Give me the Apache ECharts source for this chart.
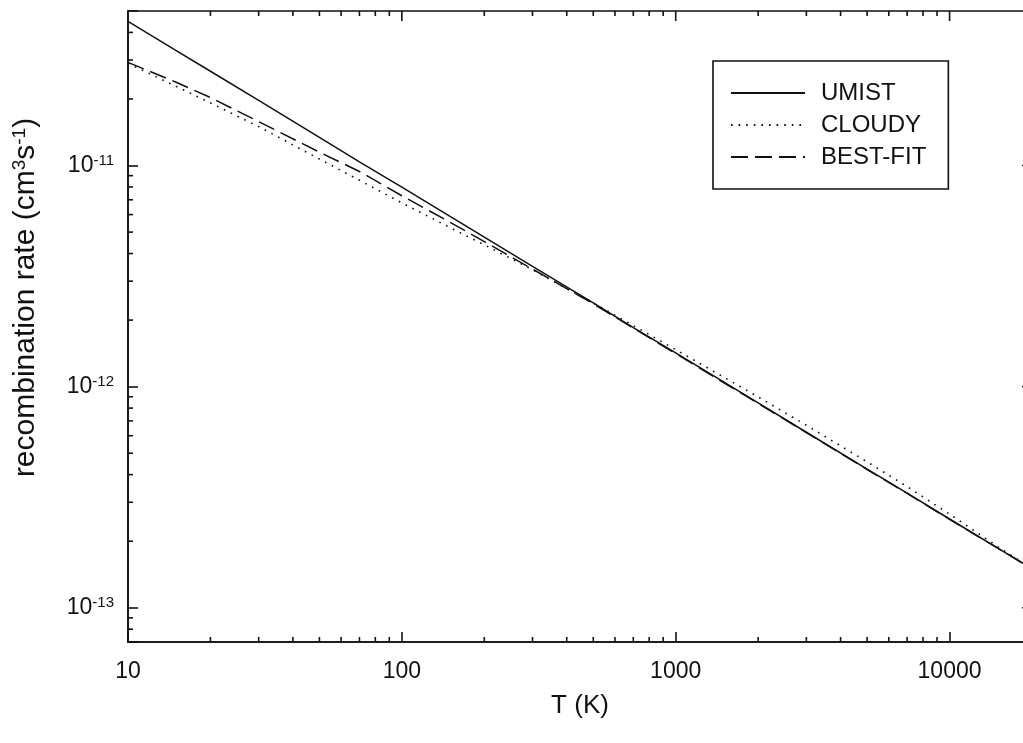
<!DOCTYPE html>
<html>
<head>
<meta charset="utf-8">
<style>
html, body { margin: 0; padding: 0; background: #fff; }
#chart { width: 1023px; height: 743px; }
</style>
<script src="https://cdn.jsdelivr.net/npm/echarts@6/dist/echarts.min.js"></script>
</head>
<body>
<div id="chart"></div>
<script>
var temperatures = [10, 15, 20, 30, 50, 70, 100, 150, 200, 300, 500, 700, 1000, 2000, 3000, 5000, 7000, 10000, 15000, 20000];
// recombination rates (cm^3 s^-1)
var umist = [4.49e-11, 3.31e-11, 2.67e-11, 1.97e-11, 1.34e-11, 1.04e-11, 7.98e-12, 5.89e-12, 4.74e-12, 3.50e-12,
             2.39e-12, 1.85e-12, 1.42e-12, 8.44e-13, 6.22e-13, 4.24e-13, 3.30e-13, 2.52e-13, 1.86e-13, 1.50e-13];
var cloudy = [2.90e-11, 2.28e-11, 1.92e-11, 1.50e-11, 1.07e-11, 8.58e-12, 6.78e-12, 5.24e-12, 4.38e-12, 3.38e-12,
              2.39e-12, 1.89e-12, 1.47e-12, 8.99e-13, 6.69e-13, 4.57e-13, 3.53e-13, 2.65e-13, 1.89e-13, 1.50e-13];
var bestFit = [2.93e-11, 2.38e-11, 2.03e-11, 1.58e-11, 1.15e-11, 9.40e-12, 7.30e-12, 5.54e-12, 4.53e-12, 3.40e-12,
               2.37e-12, 1.84e-12, 1.41e-12, 8.40e-13, 6.20e-13, 4.22e-13, 3.29e-13, 2.51e-13, 1.86e-13, 1.50e-13];

var xTickLabels = [10, 100, 1000, 10000];
var yTickExponents = [-13, -12, -11];
var xRange = [10, 20000];
var yRange = [7e-14, 5e-11];

var FONT = 'Liberation Sans, Arial, sans-serif';
var INK = '#111';

function pairs(ys) {
    return temperatures.map(function (t, i) { return [t, ys[i]]; });
}

var myChart = echarts.init(document.getElementById('chart'));

option = {
    backgroundColor: '#fff',
    animation: false,
    grid: {
        left: 128,
        top: 11,
        right: -9,
        bottom: 101,
        show: true,
        borderColor: INK,
        borderWidth: 1.6,
        outerBoundsMode: 'none'
    },
    legend: {
        orient: 'vertical',
        left: 713,
        top: 61,
        padding: [20, 22, 20, 17],
        itemGap: 8,
        itemWidth: 74,
        itemHeight: 14,
        borderColor: INK,
        borderWidth: 1.6,
        itemStyle: { opacity: 0 },
        textStyle: { fontFamily: FONT, fontSize: 24, color: INK, padding: [0, 0, 0, 11] },
        data: ['UMIST', 'CLOUDY', 'BEST-FIT']
    },
    xAxis: {
        type: 'log',
        min: xRange[0],
        max: xRange[1],
        name: 'T (K)',
        nameLocation: 'middle',
        nameGap: 51,
        nameTextStyle: { fontFamily: FONT, fontSize: 26, color: INK },
        axisLine: { lineStyle: { color: INK, width: 1.6 } },
        axisTick: { inside: true, length: 10, lineStyle: { color: INK, width: 1.6 } },
        axisLabel: {
            margin: 18,
            fontFamily: FONT,
            fontSize: 23,
            color: INK,
            formatter: function (v) {
                var r = Math.round(v);
                return xTickLabels.indexOf(r) >= 0 && Math.abs(v - r) < 1e-6 ? String(r) : '';
            }
        },
        splitLine: { show: false }
    },
    yAxis: {
        type: 'log',
        min: yRange[0],
        max: yRange[1],
        name: '{t|recombination rate (cm}{s|3}{t|s}{s|-1}{t|)}',
        nameLocation: 'middle',
        nameGap: 86,
        nameTextStyle: {
            padding: [0, 0, 0, 58],
            rich: {
                t: { fontFamily: FONT, fontSize: 30, color: INK },
                s: { fontFamily: FONT, fontSize: 19, color: INK, padding: [0, 0, 13, 0] }
            }
        },
        axisLine: { lineStyle: { color: INK, width: 1.6 } },
        axisTick: { inside: true, length: 10, lineStyle: { color: INK, width: 1.6 } },
        axisLabel: {
            margin: 14,
            formatter: function (v) {
                var lg = Math.log(v) / Math.LN10;
                var e = Math.round(lg);
                if (Math.abs(lg - e) > 1e-6 || yTickExponents.indexOf(e) < 0) return '';
                return '{b|10}{s|' + e + '}';
            },
            rich: {
                b: { fontFamily: FONT, fontSize: 23, color: INK },
                s: { fontFamily: FONT, fontSize: 15, color: INK, padding: [0, 0, 10, 0] }
            }
        },
        splitLine: { show: false }
    },
    series: [
        {
            name: 'UMIST',
            type: 'line',
            symbol: 'none',
            lineStyle: { color: INK, width: 1.5, type: 'solid' },
            itemStyle: { color: INK },
            data: pairs(umist)
        },
        {
            name: 'CLOUDY',
            type: 'line',
            symbol: 'none',
            lineStyle: { color: INK, width: 1.6, type: [1.6, 6] },
            itemStyle: { color: INK },
            data: pairs(cloudy)
        },
        {
            name: 'BEST-FIT',
            type: 'line',
            symbol: 'none',
            lineStyle: { color: INK, width: 1.5, type: [17, 7] },
            itemStyle: { color: INK },
            data: pairs(bestFit)
        }
    ]
};
myChart.setOption(option);

// log-axis minor ticks (2..9 per decade) and mirrored ticks on top/right
function tickLine(x1, y1, x2, y2) {
    return { type: 'line', silent: true, shape: { x1: x1, y1: y1, x2: x2, y2: y2 },
             style: { stroke: INK, lineWidth: 1.6 } };
}
var plotLeft = myChart.convertToPixel({ xAxisIndex: 0 }, xRange[0]);
var plotRight = myChart.convertToPixel({ xAxisIndex: 0 }, xRange[1]);
var plotBottom = myChart.convertToPixel({ yAxisIndex: 0 }, yRange[0]);
var plotTop = myChart.convertToPixel({ yAxisIndex: 0 }, yRange[1]);
var marks = [];
var d, k, v, p, len;
for (d = 10; d <= 10000; d *= 10) {
    for (k = 1; k <= 9; k++) {
        v = k * d;
        if (v <= xRange[0] || v >= xRange[1]) continue;
        p = myChart.convertToPixel({ xAxisIndex: 0 }, v);
        len = k === 1 ? 10 : 5;
        if (k !== 1) marks.push(tickLine(p, plotBottom, p, plotBottom - len));
        marks.push(tickLine(p, plotTop, p, plotTop + len));
    }
}
for (var ex = -14; ex <= -11; ex++) {
    d = Math.pow(10, ex);
    for (k = 1; k <= 9; k++) {
        v = k * d;
        if (v <= yRange[0] * 1.0001 || v >= yRange[1] * 0.9999) continue;
        p = myChart.convertToPixel({ yAxisIndex: 0 }, v);
        len = k === 1 ? 10 : 5;
        if (k !== 1) marks.push(tickLine(plotLeft, p, plotLeft + len, p));
        marks.push(tickLine(plotRight, p, plotRight - len, p));
    }
}
myChart.setOption({ graphic: { elements: marks } });
</script>
</body>
</html>
